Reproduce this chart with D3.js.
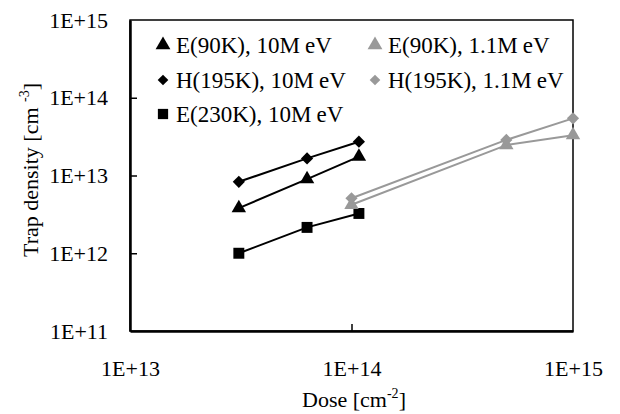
<!DOCTYPE html>
<html>
<head>
<meta charset="utf-8">
<script src="https://cdn.jsdelivr.net/npm/d3@7"></script>
<style>
  html, body { margin: 0; padding: 0; background: #fff; }
  svg text { font-family: "Liberation Serif", "DejaVu Serif", serif !important; fill: #000; }
</style>
</head>
<body>
<svg id="chart" width="620" height="414"></svg>
<script>
// Dose [cm^-2] and trap densities [cm^-3]
const dose10MeV = [3.1e13, 6.3e13, 1.08e14];
const dose1_1MeV = [1e14, 5e14, 1e15];

const e90_10MeV = [3.8e12, 9.0e12, 1.75e13];
const h195_10MeV = [8.3e12, 1.66e13, 2.72e13];
const e230_10MeV = [1.0e12, 2.15e12, 3.25e12];
const e90_1_1MeV = [4.2e12, 2.46e13, 3.3e13];
const h195_1_1MeV = [5.1e12, 2.87e13, 5.43e13];

const xTicks = [1e13, 1e14, 1e15];
const yTicks = [1e11, 1e12, 1e13, 1e14, 1e15];

const series = [
  { name: "E(90K), 10MeV",   x: dose10MeV,  y: e90_10MeV,   shape: d3.symbolTriangle, color: "#000", col: 0, row: 0 },
  { name: "H(195K), 10MeV",  x: dose10MeV,  y: h195_10MeV,  shape: d3.symbolDiamond2, color: "#000", col: 0, row: 1 },
  { name: "E(230K), 10MeV",  x: dose10MeV,  y: e230_10MeV,  shape: d3.symbolSquare,   color: "#000", col: 0, row: 2 },
  { name: "E(90K), 1.1MeV",  x: dose1_1MeV, y: e90_1_1MeV,  shape: d3.symbolTriangle, color: "#999", col: 1, row: 0 },
  { name: "H(195K), 1.1MeV", x: dose1_1MeV, y: h195_1_1MeV, shape: d3.symbolDiamond2, color: "#999", col: 1, row: 1 }
];

const svg = d3.select("#chart");
const L = 130, T = 20, R = 573, B = 331;

const x = d3.scaleLog().domain([1e13, 1e15]).range([L, R]);
const y = d3.scaleLog().domain([1e11, 1e15]).range([B, T]);

const fmt = d => "1E+" + Math.round(Math.log10(d));

// plot frame (top and right)
svg.append("rect")
  .attr("x", L).attr("y", T).attr("width", R - L).attr("height", B - T)
  .attr("fill", "none").attr("stroke", "#000").attr("stroke-width", 1.5);

// y axis
const yAxis = svg.append("g")
  .attr("transform", `translate(${L},0)`)
  .call(d3.axisLeft(y).tickValues(yTicks).tickFormat(fmt)
    .tickSizeInner(-7).tickSizeOuter(0).tickPadding(22));
yAxis.attr("font-family", null).attr("font-size", 22);
yAxis.select(".domain").attr("stroke-width", 2.5);
yAxis.selectAll(".tick line").attr("stroke-width", 1.5)
  .attr("display", d => (d === 1e11 || d === 1e15) ? "none" : null);

// x axis
const xAxis = svg.append("g")
  .attr("transform", `translate(0,${B})`)
  .call(d3.axisBottom(x).tickValues(xTicks).tickFormat(fmt)
    .tickSizeInner(-7).tickSizeOuter(0).tickPadding(29));
xAxis.attr("font-family", null).attr("font-size", 22);
xAxis.select(".domain").attr("stroke-width", 2.5);
xAxis.selectAll(".tick line").attr("stroke-width", 1.5)
  .attr("display", d => (d === 1e13 || d === 1e15) ? "none" : null);

// axis titles
const xt = svg.append("text")
  .attr("x", 354).attr("y", 407)
  .attr("text-anchor", "middle").attr("font-size", 22);
xt.append("tspan").text("Dose [cm");
xt.append("tspan").attr("font-size", 14).attr("dy", -9).text("-2");
xt.append("tspan").attr("dy", 9).text("]");

const yt = svg.append("text")
  .attr("transform", "translate(38,170) rotate(-90)")
  .attr("text-anchor", "middle").attr("font-size", 22);
yt.append("tspan").text("Trap density [cm ");
yt.append("tspan").attr("font-size", 14).attr("dy", -9).text("-3");
yt.append("tspan").attr("dy", 9).text("]");

// lines and markers
const line = d3.line().x(d => x(d[0])).y(d => y(d[1]));
const markSize = s => s === d3.symbolSquare ? 120 : (s === d3.symbolTriangle ? 90 : 95);
const legendSize = s => s === d3.symbolSquare ? 105 : (s === d3.symbolTriangle ? 95 : 72);

series.forEach(s => {
  const pts = s.x.map((v, i) => [v, s.y[i]]);
  svg.append("path").datum(pts)
    .attr("d", line).attr("fill", "none")
    .attr("stroke", s.color).attr("stroke-width", 2);
  svg.selectAll(null).data(pts).enter().append("path")
    .attr("transform", d => `translate(${x(d[0])},${y(d[1])})`)
    .attr("d", d3.symbol().type(s.shape).size(markSize(s.shape)))
    .attr("fill", s.color);
});

// legend
const colX = [163, 375];
const rowY = [45, 80, 114];
series.forEach(s => {
  const g = svg.append("g").attr("transform", `translate(${colX[s.col]},${rowY[s.row]})`);
  g.append("path")
    .attr("d", d3.symbol().type(s.shape).size(legendSize(s.shape)))
    .attr("fill", s.color);
  const t = g.append("text").attr("x", 13).attr("y", 8).attr("font-size", 23);
  const cut = s.name.indexOf("M") + 1;
  t.append("tspan").text(s.name.slice(0, cut));
  t.append("tspan").attr("dx", 5).text(s.name.slice(cut));
});
</script>
</body>
</html>
